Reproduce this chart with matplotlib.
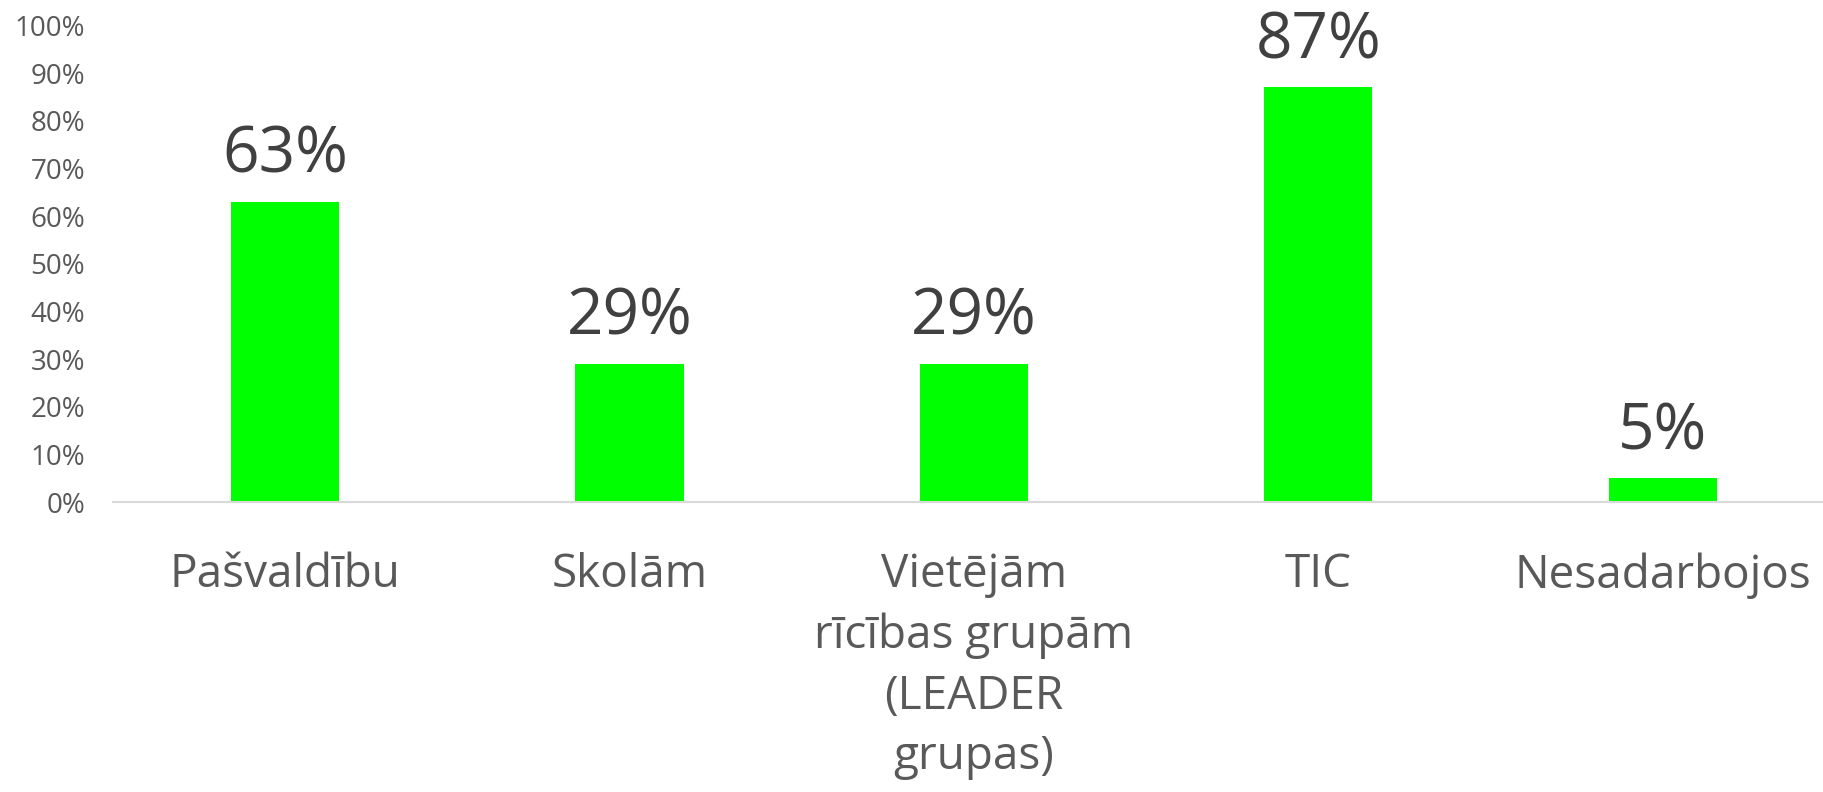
import matplotlib.pyplot as plt
import numpy as np

plt.rcParams['font.family'] = ['Open Sans', 'DejaVu Sans']

# dati
categories = ['Pašvaldību', 'Skolām', 'Vietējām\nrīcības grupām\n(LEADER\ngrupas)', 'TIC', 'Nesadarbojos']
values = [0.63, 0.29, 0.29, 0.87, 0.05]
value_labels = ['63%', '29%', '29%', '87%', '5%']
yticks = [0, 0.1, 0.2, 0.3, 0.4, 0.5, 0.6, 0.7, 0.8, 0.9, 1.0]
ytick_labels = ['0%', '10%', '20%', '30%', '40%', '50%', '60%', '70%', '80%', '90%', '100%']

fig = plt.figure(figsize=(18.23, 7.92), dpi=100)
ax = fig.add_axes([0.0619, 0.366, 0.9447, 0.602])

x = np.arange(len(categories))
bars = ax.bar(x, values, width=0.314, color='#00FF00')

for b, lab in zip(bars, value_labels):
    ax.annotate(lab, (b.get_x() + b.get_width() / 2, b.get_height()),
                xytext=(0, 21), textcoords='offset points',
                ha='center', va='baseline', fontsize=46, color='#404040')

ax.set_xlim(-0.5, 4.5)
ax.set_ylim(0, 1.0)
ax.set_yticks(yticks)
ax.set_yticklabels(ytick_labels, fontsize=20, color='#595959')
ax.set_xticks(x)
ax.set_xticklabels(categories, fontsize=33, color='#595959', linespacing=1.41, va='top')

ax.tick_params(axis='y', length=0, pad=20)
ax.tick_params(axis='x', length=0, pad=36)
for s in ['top', 'right', 'left']:
    ax.spines[s].set_visible(False)
ax.spines['bottom'].set_color('#D9D9D9')
ax.spines['bottom'].set_linewidth(1.5)

fig.savefig('out.png', dpi=100)
